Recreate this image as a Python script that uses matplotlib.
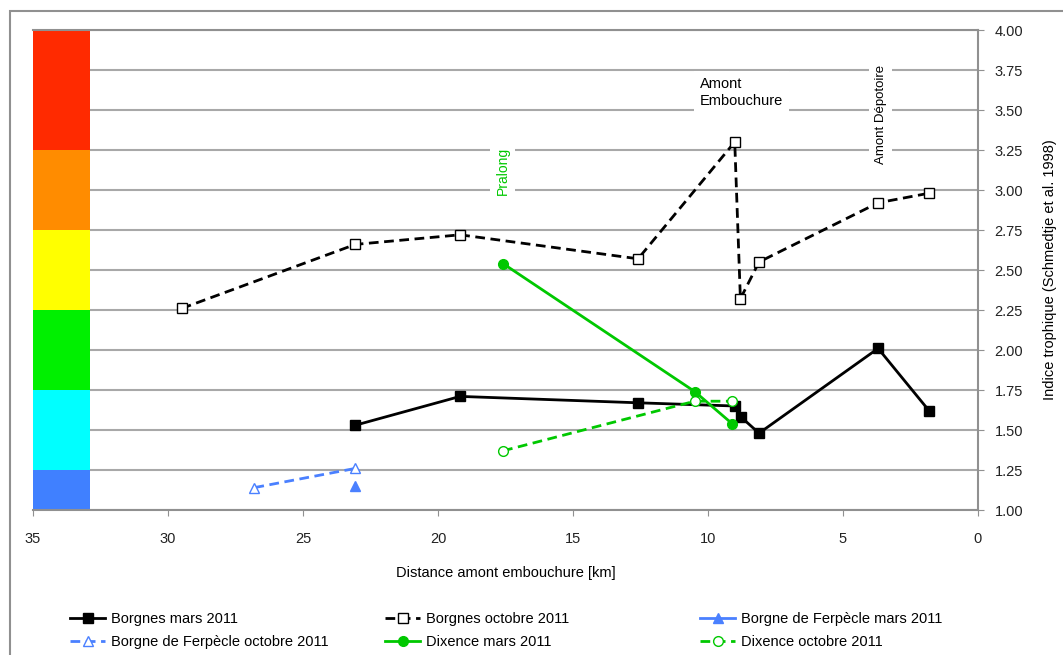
import matplotlib.pyplot as plt
from matplotlib.patches import Rectangle

plt.rcParams['font.family'] = ['Liberation Sans Narrow', 'Liberation Sans', 'DejaVu Sans']

# Data (distance in km, trophic index)
borgnes_mars_x = [23.06, 19.18, 12.59, 9.01, 8.77, 8.11, 3.70, 1.81]
borgnes_mars_y = [1.53, 1.71, 1.67, 1.65, 1.58, 1.48, 2.01, 1.62]

borgnes_oct_x = [29.49, 23.06, 19.18, 12.59, 9.01, 8.80, 8.11, 3.70, 1.81]
borgnes_oct_y = [2.26, 2.66, 2.72, 2.57, 3.30, 2.32, 2.55, 2.92, 2.98]

ferpecle_mars_x = [23.06]
ferpecle_mars_y = [1.15]

ferpecle_oct_x = [26.8, 23.06]
ferpecle_oct_y = [1.14, 1.26]

dixence_mars_x = [17.59, 10.49, 9.11]
dixence_mars_y = [2.54, 1.74, 1.54]

dixence_oct_x = [17.59, 10.49, 9.11]
dixence_oct_y = [1.37, 1.68, 1.68]

# trophic classes shown as colour bar on the left
class_bounds = [1.0, 1.25, 1.75, 2.25, 2.75, 3.25, 4.0]
class_colors = ['#4080FF', '#00FFFF', '#00F000', '#FFFF00', '#FF8C00', '#FF2A00']

blue = '#4A80FF'
green = '#00C800'

fig = plt.figure(figsize=(10.63, 6.55), dpi=100)
ax = fig.add_axes([33/1063, 1 - 510/655, (978 - 33)/1063, 480/655])

# outer frame
fig.patches.append(Rectangle((10/1063, -0.02), 1.05, 1 - 11/655 + 0.02,
                             transform=fig.transFigure, fill=False,
                             edgecolor='#909090', lw=1.5))

# colour bar
for i, c in enumerate(class_colors):
    ax.barh(class_bounds[i], 2.1, height=class_bounds[i+1] - class_bounds[i],
            left=32.9, align='edge', color=c, zorder=2)

h = []
h += ax.plot(borgnes_mars_x, borgnes_mars_y, '-', color='black', lw=2,
             marker='s', ms=7, mfc='black', mec='black', label='Borgnes mars 2011', zorder=4)
h += ax.plot(borgnes_oct_x, borgnes_oct_y, '--', color='black', lw=2, dashes=(3.5, 2),
             marker='s', ms=7, mfc='white', mec='black', mew=1, label='Borgnes octobre 2011', zorder=4)
h += ax.plot(ferpecle_mars_x, ferpecle_mars_y, '-', color=blue, lw=2,
             marker='^', ms=7, mfc=blue, mec=blue, label='Borgne de Ferpècle mars 2011', zorder=4)
h += ax.plot(ferpecle_oct_x, ferpecle_oct_y, '--', color=blue, lw=2, dashes=(3.5, 2),
             marker='^', ms=7, mfc='white', mec=blue, mew=1, label='Borgne de Ferpècle octobre 2011', zorder=4)
h += ax.plot(dixence_mars_x, dixence_mars_y, '-', color=green, lw=2,
             marker='o', ms=7, mfc=green, mec=green, label='Dixence mars 2011', zorder=4)
h += ax.plot(dixence_oct_x, dixence_oct_y, '--', color=green, lw=2, dashes=(3.5, 2),
             marker='o', ms=7, mfc='white', mec=green, mew=1, label='Dixence octobre 2011', zorder=4)

ax.set_xlim(35, 0)
ax.set_ylim(1.0, 4.0)
ax.set_xticks([35, 30, 25, 20, 15, 10, 5, 0])
ax.set_yticks([1 + 0.25*i for i in range(13)])
ax.set_yticklabels(['%.2f' % (1 + 0.25*i) for i in range(13)])
ax.yaxis.tick_right()
ax.yaxis.set_label_position('right')
ax.grid(axis='y', color='#A8A8A8', lw=1.5, zorder=1)
ax.set_axisbelow(True)
ax.tick_params(axis='both', labelsize=10.5, colors='#222222', length=4, color='#909090')
ax.tick_params(axis='x', pad=12)
ax.tick_params(axis='y', pad=8)
for s in ['top', 'right', 'bottom']:
    ax.spines[s].set_color('#909090')
    ax.spines[s].set_linewidth(1.5)
ax.spines['left'].set_visible(False)

ax.set_xlabel('Distance amont embouchure [km]', fontsize=10.5, labelpad=14)
ax.set_ylabel('Indice trophique (Schmedtje et al. 1998)', fontsize=10.5, labelpad=14)

box = dict(facecolor='white', edgecolor='none', pad=4)
ax.text(10.3, 3.61, 'Amont\nEmbouchure', fontsize=10.5, ha='left', va='center',
        linespacing=1.3, bbox=box, zorder=3)
ax.text(3.6, 3.47, 'Amont Dépotoire', fontsize=9.5, rotation=90, ha='center',
        va='center', bbox=box, zorder=3)
ax.text(17.6, 3.12, 'Pralong', fontsize=10, rotation=90, color=green, ha='center',
        va='center', bbox=box, zorder=3)

# legend: three columns, row-wise order as in the original
col_x = [70, 385, 700]
for k in range(3):
    leg = fig.legend(handles=[h[k], h[k + 3]], loc='upper left',
                     bbox_to_anchor=(col_x[k]/1063, 1 - 612/655), frameon=False,
                     fontsize=10.5, handlelength=2.4, handletextpad=0.4,
                     labelspacing=0.6, borderpad=0, borderaxespad=0)

fig.savefig('out.png', dpi=100)
